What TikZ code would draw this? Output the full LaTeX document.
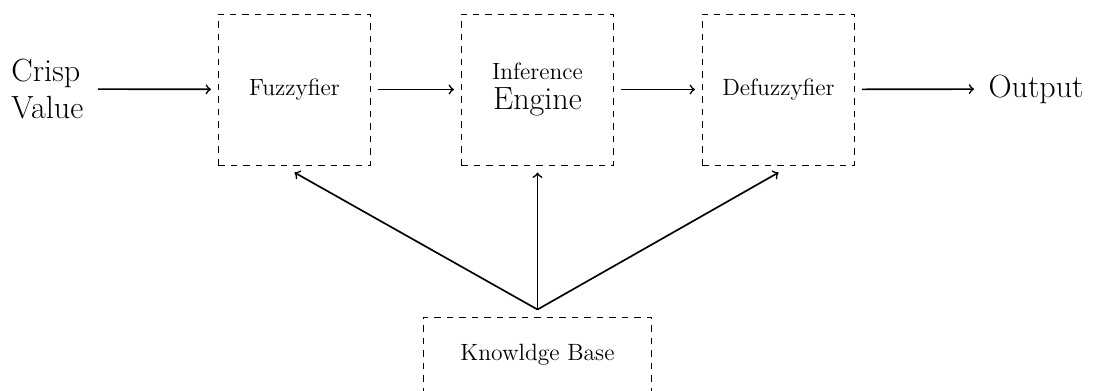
\documentclass[tikz,border=0pt]{standalone}
\usetikzlibrary{arrows}
\newcommand{\smalltxt}{\fontsize{11.3pt}{13.5pt}\selectfont}
\newcommand{\bigtxt}{\fontsize{15.4pt}{18pt}\selectfont}
\begin{document}
\begin{tikzpicture}[x=0.48pt,y=-0.48pt,
  blockbox/.style={draw, dashed, line width=0.45pt, minimum width=73pt, minimum height=72.5pt, inner sep=0pt, outer sep=3.6pt, font=\smalltxt},
  kbbox/.style={draw, dashed, line width=0.45pt, minimum width=109pt, minimum height=36pt, inner sep=0pt, outer sep=3.6pt, font=\smalltxt},
  label/.style={font=\bigtxt, outer sep=3.6pt},
  conn/.style={->, line width=0.8pt}]
\useasboundingbox (0,0) rectangle (1094,390);
\node[label, align=left, anchor=west] (crisp) at (-3,89) {Crisp\\Value};
\node[blockbox] (fuzz) at (294.5,89.5) {Fuzzyfier};
\node[blockbox, align=center] (inf) at (537.5,89.5) {Inference\\[1pt]{\bigtxt Engine}};
\node[blockbox] (defuzz) at (778.5,89.5) {Defuzzyfier};
\node[label] (out) at (1036,89) {Output};
\node[kbbox] (kb) at (537.5,354.5) {Knowldge Base};
\draw[conn] (crisp) -- (fuzz);
\draw[conn] (fuzz) -- (inf);
\draw[conn] (inf) -- (defuzz);
\draw[conn] (defuzz) -- (out);
\draw[conn] (kb.north) -- (fuzz.south);
\draw[conn] (kb.north) -- (inf.south);
\draw[conn] (kb.north) -- (defuzz.south);
\end{tikzpicture}
\end{document}
